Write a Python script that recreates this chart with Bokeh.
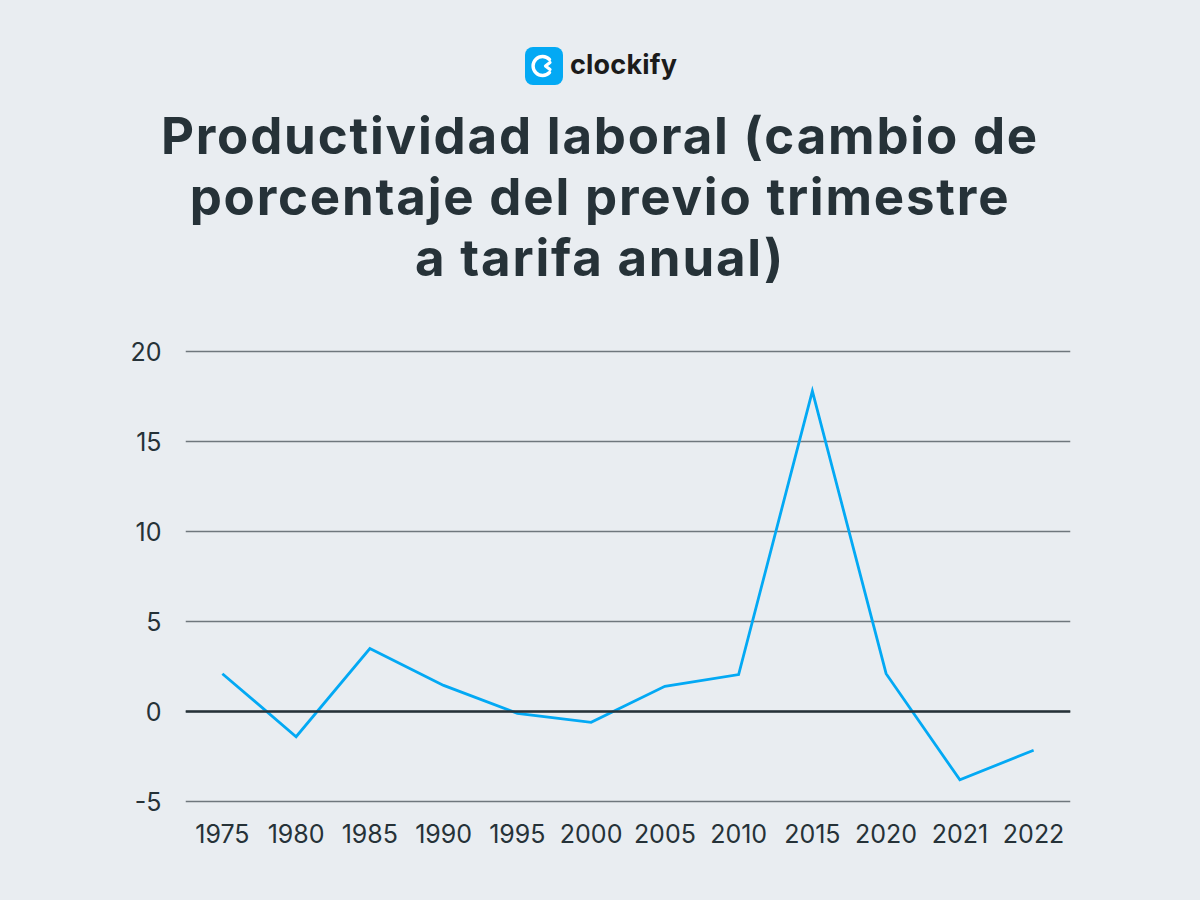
from bokeh.plotting import figure
from bokeh.layouts import column
from bokeh.models import FactorRange, Range1d, FixedTicker, Span, Div, GlobalInlineStyleSheet
from bokeh.embed import file_html
from bokeh.resources import INLINE

years = ["1975", "1980", "1985", "1990", "1995", "2000", "2005", "2010", "2015", "2020", "2021", "2022"]
productivity = [2.1, -1.4, 3.5, 1.45, -0.1, -0.6, 1.4, 2.05, 17.8, 2.1, -3.8, -2.15]
y_ticks = [-5, 0, 5, 10, 15, 20]
y_tick_labels = {-5: "-5", 0: "0", 5: "5", 10: "10", 15: "15", 20: "20"}
title_lines = ["Productividad laboral (cambio de", "porcentaje del previo trimestre", "a tarifa anual)"]

BG = "#e9edf1"
DARK = "#263238"
FONT = "Inter"

HEADER_H = 335

icon_svg = (
    '<svg width="38" height="38" viewBox="0 0 38 38" xmlns="http://www.w3.org/2000/svg">'
    '<rect x="0" y="0" width="38" height="38" rx="8" ry="8" fill="#03a9f4"/>'
    '<path d="M24.5 12.5 A9.5 9.5 0 1 0 24.5 25.5" fill="none" stroke="white" stroke-width="3.4" stroke-linecap="round"/>'
    '<path d="M25 15.5 L20.5 19 L25 22.5" fill="none" stroke="white" stroke-width="3.2" stroke-linecap="round" stroke-linejoin="round"/>'
    '</svg>'
)

header_html = (
    f'<div style="position:relative;width:1200px;height:{HEADER_H}px;font-family:{FONT};color:{DARK};">'
    f'<div style="position:absolute;left:525px;top:47px;width:38px;height:38px;">{icon_svg}</div>'
    '<div style="position:absolute;left:570px;top:47px;height:38px;line-height:36px;font-size:27px;'
    'font-weight:700;color:#1b1b1b;letter-spacing:0.2px;">clockify</div>'
    '<div style="position:absolute;left:0;top:105px;width:1200px;text-align:center;font-size:51px;'
    'font-weight:700;line-height:61px;letter-spacing:1.8px;">' + "<br>".join(title_lines) + '</div>'
    '</div>'
)
header = Div(text=header_html, width=1200, height=HEADER_H, margin=0,
             styles={"background-color": BG})

p = figure(x_range=FactorRange(*years), y_range=Range1d(-5 - 2 / 18, 20 + 2 / 18),
           width=1200, height=900 - HEADER_H, output_backend="svg", toolbar_location=None,
           background_fill_color=BG, border_fill_color=BG, outline_line_color=None,
           min_border_left=185, min_border_right=130, min_border_top=14, min_border_bottom=97,
           margin=0)

p.line(x=years, y=productivity, line_color="#03a9f4", line_width=2.8, line_join="miter")

p.add_layout(Span(location=0, dimension="width", line_color=DARK, line_width=2.5))

p.xgrid.grid_line_color = None
p.ygrid.grid_line_color = "#6f777d"
p.ygrid.grid_line_width = 1.3
p.yaxis.ticker = FixedTicker(ticks=y_ticks)
p.yaxis.major_label_overrides = y_tick_labels

for ax in (p.xaxis[0], p.yaxis[0]):
    ax.axis_line_color = None
    ax.major_tick_line_color = None
    ax.minor_tick_line_color = None
    ax.major_tick_in = 0
    ax.major_tick_out = 0
    ax.major_label_text_font = FONT
    ax.major_label_text_font_size = "25px"
    ax.major_label_text_color = DARK
p.yaxis.major_label_standoff = 24
p.xaxis.major_label_standoff = 20

layout = column(header, p, spacing=0, margin=0,
                stylesheets=[GlobalInlineStyleSheet(css="html,body{background:#e9edf1;margin:0;}")])

open("out.html", "w").write(file_html(layout, INLINE))
